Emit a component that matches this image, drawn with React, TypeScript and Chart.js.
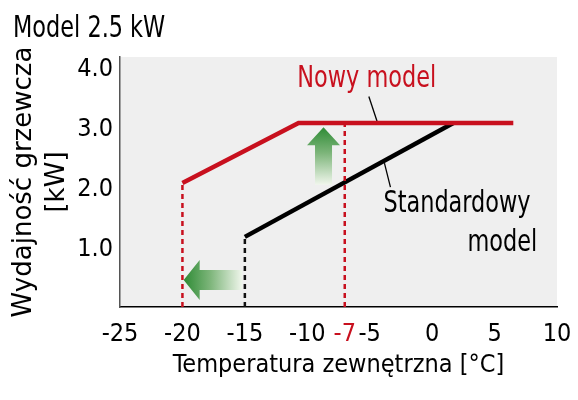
import React, { useEffect, useRef } from "react";
import { Chart, registerables } from "chart.js";

Chart.register(...registerables);

const RED = "#c8101e";
const NARROW = "'DejaVu Sans Condensed', 'DejaVu Sans', sans-serif";

// axis ticks
const xTicks = [-25, -20, -15, -10, -7, -5, 0, 5, 10];
const yTicks = [1, 2, 3, 4];
const yMin = -0.07;
const yMax = 4.1;

// heating output [kW] vs outdoor temperature [°C]
const newModelX = [-20, -10.7, 6.5];
const newModelY = [2.0, 3.0, 3.0];
const standardX = [-15, 1.7];
const standardY = [1.1, 3.0];

// dotted drop lines: x, top value
const dropNewX = [-20, -7];
const dropNewTop = [2.0, 3.0];
const dropStdX = [-15];
const dropStdTop = [1.1];

// leader lines for the labels
const leaderNewX = [-5.07, -4.4];
const leaderNewY = [3.44, 3.02];
const leaderStdX = [-3.82, -3.34];
const leaderStdY = [2.33, 1.93];

// green arrows: tail -> tip
const arrowUpX = [-8.7, -8.7];
const arrowUpY = [1.97, 2.93];
const arrowLeftX = [-15.2, -19.9];
const arrowLeftY = [0.38, 0.38];

// label anchors (data units)
const newLabelAt = [-10.8, 3.6];
const stdLabelAt = [-3.9, 1.52];
const stdLabel2At = [8.42, 0.87];

const pts = (xs: number[], ys: number[]) => xs.map((x, i) => ({ x, y: ys[i] }));

function drawArrow(ctx: CanvasRenderingContext2D, x0: number, y0: number, x1: number, y1: number, shaft: number, head: number, headLen: number) {
  const dx = x1 - x0;
  const dy = y1 - y0;
  const len = Math.hypot(dx, dy);
  const ux = dx / len;
  const uy = dy / len;
  const nx = -uy;
  const ny = ux;
  const bx = x1 - ux * headLen;
  const by = y1 - uy * headLen;
  ctx.beginPath();
  ctx.moveTo(x0 + (nx * shaft) / 2, y0 + (ny * shaft) / 2);
  ctx.lineTo(bx + (nx * shaft) / 2, by + (ny * shaft) / 2);
  ctx.lineTo(bx + (nx * head) / 2, by + (ny * head) / 2);
  ctx.lineTo(x1, y1);
  ctx.lineTo(bx - (nx * head) / 2, by - (ny * head) / 2);
  ctx.lineTo(bx - (nx * shaft) / 2, by - (ny * shaft) / 2);
  ctx.lineTo(x0 - (nx * shaft) / 2, y0 - (ny * shaft) / 2);
  ctx.closePath();
  const g = ctx.createLinearGradient(x0, y0, x1, y1);
  g.addColorStop(0, "#f0f6ec");
  g.addColorStop(0.55, "#7db57a");
  g.addColorStop(1, "#2e8b35");
  ctx.fillStyle = g;
  ctx.fill();
}

// narrow text: squeeze horizontally, the source uses a condensed face
function squeezed(ctx: CanvasRenderingContext2D, text: string, x: number, y: number, align: CanvasTextAlign) {
  ctx.save();
  ctx.translate(x, y);
  ctx.scale(0.83, 1);
  ctx.textAlign = align;
  ctx.fillText(text, 0, 0);
  ctx.restore();
}

const decor = {
  id: "decor",
  beforeDraw(chart: any) {
    const { ctx, chartArea: a } = chart;
    ctx.save();
    ctx.fillStyle = "#efefef";
    ctx.fillRect(a.left, a.top, a.right - a.left, a.bottom - a.top);
    ctx.restore();
  },
  afterDatasetsDraw(chart: any) {
    const { ctx, scales } = chart;
    const px = (v: number) => scales.x.getPixelForValue(v);
    const py = (v: number) => scales.y.getPixelForValue(v);
    ctx.save();
    drawArrow(ctx, px(arrowUpX[0]), py(arrowUpY[0]), px(arrowUpX[1]), py(arrowUpY[1]), 17, 33, 18);
    drawArrow(ctx, px(arrowLeftX[0]), py(arrowLeftY[0]), px(arrowLeftX[1]), py(arrowLeftY[1]), 20, 40, 16);
    ctx.restore();
  },
  afterDraw(chart: any) {
    const { ctx, scales } = chart;
    const px = (v: number) => scales.x.getPixelForValue(v);
    const py = (v: number) => scales.y.getPixelForValue(v);
    ctx.save();
    ctx.textBaseline = "alphabetic";
    ctx.font = `30px ${NARROW}`;
    ctx.fillStyle = "#000";
    squeezed(ctx, "Model 2.5 kW", 13, 36.5, "left");
    ctx.fillStyle = RED;
    squeezed(ctx, "Nowy model", px(newLabelAt[0]), py(newLabelAt[1]), "left");
    ctx.fillStyle = "#000";
    squeezed(ctx, "Standardowy", px(stdLabelAt[0]), py(stdLabelAt[1]), "left");
    squeezed(ctx, "model", px(stdLabel2At[0]), py(stdLabel2At[1]), "right");
    ctx.restore();
  },
};

const line = (data: { x: number; y: number }[], color: string, width: number, dash: number[] = []) => ({
  data,
  borderColor: color,
  borderWidth: width,
  borderDash: dash,
  pointRadius: 0,
  fill: false,
  tension: 0,
  borderCapStyle: "butt" as const,
});

export default function App() {
  const canvasRef = useRef<HTMLCanvasElement | null>(null);

  useEffect(() => {
    if (!canvasRef.current) return;
    const dashes = [
      ...dropNewX.map((x, i) => line(pts([x, x], [yMin, dropNewTop[i]]), RED, 2.5, [5, 4])),
      ...dropStdX.map((x, i) => line(pts([x, x], [yMin, dropStdTop[i]]), "#111", 2.5, [5, 4])),
    ];
    const chart = new Chart(canvasRef.current, {
      type: "line",
      data: {
        datasets: [
          ...dashes,
          line(pts(newModelX, newModelY), RED, 4.5),
          line(pts(standardX, standardY), "#000", 4.5),
          line(pts(leaderNewX, leaderNewY), "#000", 1.3),
          line(pts(leaderStdX, leaderStdY), "#000", 1.3),
        ] as any,
      },
      options: {
        animation: false,
        responsive: true,
        maintainAspectRatio: false,
        layout: { padding: { left: 0, top: 57, right: 21, bottom: 0 } },
        plugins: {
          legend: { display: false },
          tooltip: { enabled: false },
        },
        scales: {
          x: {
            type: "linear",
            min: -25,
            max: 10,
            afterBuildTicks: (s: any) => {
              s.ticks = xTicks.map((value) => ({ value }));
            },
            afterFit: (s: any) => {
              s.height = 93;
              s.paddingLeft = 0;
              s.paddingRight = 0;
            },
            grid: { display: false, drawTicks: false },
            border: { display: true, color: "#000", width: 1.5 },
            ticks: {
              autoSkip: false,
              maxRotation: 0,
              padding: 12,
              font: { family: NARROW, size: 25 },
              color: (c: any) => (c.tick && c.tick.value === -7 ? RED : "#000"),
              callback: (v: any) => String(v),
            },
            title: {
              display: true,
              text: "Temperatura zewnętrzna [°C]",
              color: "#000",
              font: { family: NARROW, size: 25, lineHeight: 1.2 },
              padding: { top: 0, bottom: 20 },
            },
          },
          y: {
            type: "linear",
            min: yMin,
            max: yMax,
            afterBuildTicks: (s: any) => {
              s.ticks = yTicks.map((value) => ({ value }));
            },
            afterFit: (s: any) => {
              s.width = 120;
            },
            grid: { display: false, drawTicks: false },
            border: { display: true, color: "#555", width: 1.5 },
            ticks: {
              padding: 7,
              labelOffset: 7,
              font: { family: NARROW, size: 25 },
              color: "#000",
              callback: (v: any) => Number(v).toFixed(1),
            },
            title: {
              display: true,
              text: ["Wydajność grzewcza", "[kW]"],
              color: "#000",
              font: { family: "'DejaVu Sans', sans-serif", size: 26, lineHeight: 1.25 },
              padding: { top: 8, bottom: 0 },
            },
          },
        },
      },
      plugins: [decor],
    });
    return () => chart.destroy();
  }, []);

  return (
    <div style={{ position: "fixed", left: 0, top: 0, width: 578, height: 400, background: "#fff" }}>
      <canvas ref={canvasRef}></canvas>
    </div>
  );
}
